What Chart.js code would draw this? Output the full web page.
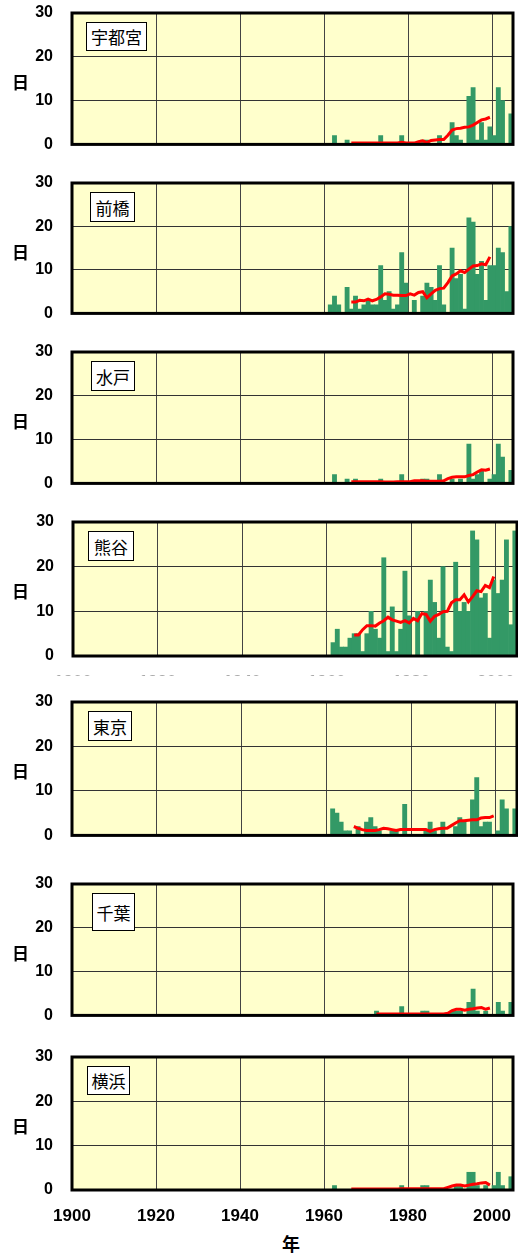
<!DOCTYPE html>
<html lang="ja">
<head>
    <meta charset="UTF-8">
    <title>猛暑日の年間日数</title>
    <script src="https://cdn.jsdelivr.net/npm/chart.js"></script>
    <style>
        body {
            margin: 0;
            padding: 0;
            background: #fff;
            font-family: "Liberation Sans", Arial, sans-serif;
        }

        #wrap {
            position: relative;
            width: 518px;
            height: 1254px;
            overflow: hidden;
        }

        canvas {
            position: absolute;
            left: 0;
        }

        .station {
            position: absolute;
            background: #fff;
            border: 1px solid #000;
            box-sizing: border-box;
            font-family: "Noto Sans CJK JP", sans-serif;
            font-size: 17px;
            display: flex;
            align-items: center;
            justify-content: center;
            color: #000;
        }

        .ytitle, .xtitle {
            position: absolute;
            font-family: "Noto Sans CJK JP", sans-serif;
            font-weight: bold;
            color: #000;
            line-height: 1;
        }

        .ytitle { font-size: 17px; }
        .xtitle { font-size: 18px; }
    </style>
</head>
<body>
    <div id="wrap"></div>

    <script>
        // years of observation (bars) and of the running mean (red line)
        var years = [1961, 1962, 1963, 1964, 1965, 1966, 1967, 1968, 1969, 1970,
                     1971, 1972, 1973, 1974, 1975, 1976, 1977, 1978, 1979, 1980,
                     1981, 1982, 1983, 1984, 1985, 1986, 1987, 1988, 1989, 1990,
                     1991, 1992, 1993, 1994, 1995, 1996, 1997, 1998, 1999, 2000,
                     2001, 2002, 2003, 2004];
        var maYears = [1966, 1967, 1968, 1969, 1970, 1971, 1972, 1973, 1974, 1975,
                       1976, 1977, 1978, 1979, 1980, 1981, 1982, 1983, 1984, 1985,
                       1986, 1987, 1988, 1989, 1990, 1991, 1992, 1993, 1994, 1995,
                       1996, 1997, 1998, 1999];
        var chibaMaYears = [1972, 1973, 1974, 1975, 1976, 1977, 1978, 1979, 1980, 1981,
                            1982, 1983, 1984, 1985, 1986, 1987, 1988, 1989, 1990, 1991,
                            1992, 1993, 1994, 1995, 1996, 1997, 1998, 1999];

        var xTicks = [1900, 1920, 1940, 1960, 1980, 2000];
        var yTicks = [0, 10, 20, 30];

        // days per year
        var utsunomiyaDays = [0, 2, 0, 0, 1, 0, 0, 0, 0, 0,
                              0, 0, 2, 0, 0, 0, 0, 2, 0, 0,
                              0, 0, 1, 1, 0, 0, 2, 0, 0, 5,
                              2, 1, 0, 11, 13, 1, 5, 1, 4, 2,
                              13, 10, 0, 7];
        var maebashiDays = [2, 4, 2, 0, 6, 1, 4, 1, 2, 3,
                            2, 2, 11, 3, 5, 1, 2, 14, 7, 0,
                            3, 0, 4, 7, 6, 3, 11, 2, 0, 15,
                            8, 9, 1, 22, 21, 9, 12, 3, 11, 11,
                            15, 14, 5, 20];
        var mitoDays = [0, 2, 0, 0, 1, 0, 1, 0, 0, 0,
                        0, 0, 1, 0, 0, 0, 0, 2, 0, 0,
                        0, 0, 1, 1, 0, 0, 2, 0, 0, 1,
                        0, 1, 0, 9, 1, 2, 3, 0, 1, 2,
                        9, 6, 0, 3];
        var kumagayaDays = [3, 6, 2, 2, 4, 5, 5, 1, 5, 10,
                            6, 4, 22, 1, 11, 1, 6, 19, 9, 0,
                            10, 0, 10, 17, 12, 4, 20, 2, 1, 21,
                            10, 12, 10, 28, 26, 13, 14, 4, 17, 14,
                            17, 26, 7, 28];
        var tokyoDays = [6, 5, 3, 1, 1, 0, 2, 0, 3, 4,
                         2, 1, 0, 0, 1, 1, 0, 7, 0, 0,
                         0, 0, 1, 3, 1, 0, 3, 0, 0, 2,
                         4, 3, 0, 8, 13, 2, 3, 3, 0, 1,
                         8, 6, 0, 6];
        var chibaDays = [null, null, null, null, null, null, 0, 0, 0, 0,
                         0, 1, 0, 0, 0, 0, 0, 2, 0, 0,
                         0, 0, 1, 1, 0, 0, 0, 0, 0, 1,
                         1, 1, 0, 3, 6, 1, 0, 1, 0, 0,
                         3, 1, 0, 3];
        var yokohamaDays = [0, 1, 0, 0, 0, 0, 0, 0, 0, 0,
                            0, 0, 0, 0, 0, 0, 0, 1, 0, 0,
                            0, 0, 1, 1, 0, 0, 0, 0, 0, 0,
                            1, 1, 0, 4, 4, 1, 0, 1, 0, 1,
                            4, 1, 0, 3];

        // running mean (red line)
        var utsunomiyaAvg = [0.3, 0.3, 0.3, 0.3, 0.3, 0.3, 0.3, 0.3, 0.3, 0.3,
                             0.3, 0.3, 0.5, 0.3, 0.3, 0.3, 0.6, 0.8, 0.4, 0.9,
                             1.0, 1.1, 1.1, 2.1, 3.3, 3.6, 3.7, 3.9, 4.0, 4.4,
                             5.0, 5.6, 5.8, 6.2];
        var maebashiAvg = [2.6, 2.6, 3.0, 2.9, 3.3, 2.9, 3.2, 3.8, 4.5, 4.4,
                           4.2, 4.2, 4.1, 4.1, 4.5, 4.2, 4.8, 5.0, 3.6, 4.5,
                           5.3, 5.7, 5.8, 7.1, 8.6, 9.1, 9.8, 9.4, 10.2, 10.9,
                           11.0, 11.4, 11.2, 13.0];
        var mitoAvg = [0.4, 0.4, 0.4, 0.4, 0.4, 0.4, 0.4, 0.4, 0.3, 0.3,
                       0.3, 0.4, 0.4, 0.4, 0.4, 0.6, 0.6, 0.6, 0.5, 0.5,
                       0.5, 0.5, 0.6, 1.1, 1.4, 1.5, 1.5, 1.5, 1.8, 2.0,
                       2.6, 3.1, 3.0, 3.3];
        var kumagayaAvg = [4.7, 4.7, 5.9, 6.8, 6.8, 6.7, 7.4, 7.9, 8.7, 8.1,
                           7.8, 7.5, 7.9, 7.4, 8.4, 7.9, 9.5, 9.3, 7.8, 8.9,
                           9.3, 9.9, 10.0, 11.9, 12.6, 12.6, 13.7, 12.1, 13.3, 14.6,
                           14.4, 15.8, 15.3, 17.8];
        var tokyoAvg = [2.0, 1.6, 1.3, 1.1, 1.1, 1.1, 1.3, 1.6, 1.5, 1.3,
                        1.1, 1.3, 1.3, 1.3, 1.3, 1.3, 1.3, 1.3, 0.9, 1.3,
                        1.5, 1.6, 1.6, 2.2, 2.8, 3.3, 3.3, 3.4, 3.5, 3.5,
                        3.9, 4.0, 4.0, 4.4];
        var chibaAvg = [0.3, 0.3, 0.3, 0.3, 0.3, 0.3, 0.3, 0.3, 0.3, 0.3,
                        0.3, 0.3, 0.3, 0.3, 0.3, 0.3, 0.3, 0.5, 1.1, 1.4,
                        1.4, 1.2, 1.4, 1.5, 1.7, 1.8, 1.4, 1.7];
        var yokohamaAvg = [0.2, 0.2, 0.2, 0.2, 0.2, 0.2, 0.2, 0.2, 0.2, 0.2,
                           0.2, 0.2, 0.3, 0.3, 0.3, 0.3, 0.3, 0.3, 0.3, 0.3,
                           0.3, 0.3, 0.3, 0.6, 0.9, 1.1, 1.1, 0.9, 1.1, 1.3,
                           1.4, 1.6, 1.7, 1.1];

        var stations = ['宇都宮', '前橋', '水戸', '熊谷', '東京', '千葉', '横浜'];
        var allDays = [utsunomiyaDays, maebashiDays, mitoDays, kumagayaDays, tokyoDays, chibaDays, yokohamaDays];
        var allAvg = [utsunomiyaAvg, maebashiAvg, mitoAvg, kumagayaAvg, tokyoAvg, chibaAvg, yokohamaAvg];
        var allAvgYears = [maYears, maYears, maYears, maYears, maYears, chibaMaYears, maYears];

        // panel geometry (plot area in page pixels) and label box
        var panelBox = [
            { top: 13,   bottom: 146,  left: 72, right: 513, xh: 0,  lab: [86, 61, 29] },
            { top: 183,  bottom: 315,  left: 72, right: 513, xh: 0,  lab: [90, 45, 30] },
            { top: 352,  bottom: 485,  left: 72, right: 513, xh: 0,  lab: [91, 44, 30] },
            { top: 522,  bottom: 656,  left: 73, right: 517, xh: 20, lab: [88, 46, 30] },
            { top: 702,  bottom: 837,  left: 72, right: 517, xh: 0,  lab: [88, 44, 30] },
            { top: 884,  bottom: 1017, left: 72, right: 513, xh: 0,  lab: [92, 43, 38] },
            { top: 1057, bottom: 1190, left: 72, right: 513, xh: 40, lab: [87, 43, 29] }
        ];

        Chart.defaults.font.family = '"Liberation Sans", Arial, sans-serif';
        Chart.defaults.color = '#000';

        // yellow plot background + heavy black frame
        var framePlugin = {
            id: 'frame',
            beforeDraw: function(chart) {
                var a = chart.chartArea, ctx = chart.ctx;
                ctx.save();
                ctx.fillStyle = '#ffffcc';
                ctx.fillRect(a.left, a.top, a.right - a.left, a.bottom - a.top);
                ctx.restore();
            },
            afterDraw: function(chart) {
                var a = chart.chartArea, ctx = chart.ctx;
                ctx.save();
                ctx.strokeStyle = '#000';
                ctx.lineWidth = 3;
                ctx.strokeRect(a.left, a.top, a.right - a.left, a.bottom - a.top);
                ctx.restore();
            }
        };

        var wrap = document.getElementById('wrap');

        stations.forEach(function(name, i) {
            var p = panelBox[i];
            var padTop = 13;
            var padBottom = p.xh > 0 ? 0 : 8;
            var canvasTop = p.top - padTop;
            var canvasH = p.bottom - canvasTop + padBottom + p.xh;

            var cv = document.createElement('canvas');
            cv.width = 518;
            cv.height = canvasH;
            cv.style.top = canvasTop + 'px';
            wrap.appendChild(cv);

            // station name box
            var lb = document.createElement('div');
            lb.className = 'station';
            lb.textContent = name;
            lb.style.left = p.lab[0] + 'px';
            lb.style.top = (p.top + 9) + 'px';
            lb.style.width = p.lab[1] + 'px';
            lb.style.height = p.lab[2] + 'px';
            wrap.appendChild(lb);

            // y title
            var yt = document.createElement('div');
            yt.className = 'ytitle';
            yt.textContent = '日';
            yt.style.left = '12px';
            yt.style.top = (p.top + 60) + 'px';
            wrap.appendChild(yt);

            var days = allDays[i];
            var avg = allAvg[i];
            var avgYears = allAvgYears[i];

            var barData = [];
            years.forEach(function(yr, k) {
                if (days[k] !== null) barData.push({ x: yr + 0.5, y: days[k] });
            });
            var lineData = avgYears.map(function(yr, k) {
                return { x: yr + 0.5, y: avg[k] };
            });

            var showX = p.xh > 0;
            var faintX = (i === 3);

            new Chart(cv.getContext('2d'), {
                type: 'bar',
                data: {
                    datasets: [{
                        type: 'line',
                        data: lineData,
                        borderColor: '#ff0000',
                        borderWidth: 3,
                        pointRadius: 0,
                        fill: false,
                        tension: 0,
                        order: 0
                    }, {
                        type: 'bar',
                        data: barData,
                        backgroundColor: '#339966',
                        borderWidth: 0,
                        barPercentage: 1.0,
                        categoryPercentage: 1.0,
                        order: 1
                    }]
                },
                options: {
                    responsive: false,
                    animation: false,
                    devicePixelRatio: 1,
                    layout: {
                        padding: { top: padTop, bottom: padBottom, left: 0, right: 518 - p.right }
                    },
                    plugins: {
                        legend: { display: false },
                        tooltip: { enabled: false }
                    },
                    scales: {
                        x: {
                            type: 'linear',
                            offset: false,
                            min: 1900,
                            max: 2005,
                            afterBuildTicks: function(s) {
                                s.ticks = xTicks.map(function(v) { return { value: v }; });
                            },
                            afterFit: function(s) { s.height = p.xh; },
                            grid: {
                                offset: false,
                                color: '#444',
                                lineWidth: 1,
                                drawTicks: showX,
                                tickLength: faintX ? 16 : 16,
                                tickColor: 'rgba(0,0,0,0)'
                            },
                            border: { display: false },
                            ticks: {
                                display: showX,
                                autoSkip: false,
                                maxRotation: 0,
                                padding: 0,
                                color: faintX ? '#aaa' : '#000',
                                font: { size: 17, weight: 'bold' },
                                callback: function(v) { return String(v); }
                            }
                        },
                        y: {
                            min: 0,
                            max: 30,
                            afterBuildTicks: function(s) {
                                s.ticks = yTicks.map(function(v) { return { value: v }; });
                            },
                            afterFit: function(s) { s.width = p.left; },
                            grid: {
                                color: '#333',
                                lineWidth: 1,
                                drawTicks: true,
                                tickLength: 19,
                                tickColor: 'rgba(0,0,0,0)'
                            },
                            border: { display: false },
                            ticks: {
                                padding: 0,
                                font: { size: 16, weight: 'bold' }
                            }
                        }
                    }
                },
                plugins: [framePlugin]
            });
        });

        var xt = document.createElement('div');
        xt.className = 'xtitle';
        xt.textContent = '年';
        xt.style.left = '282px';
        xt.style.top = '1234px';
        wrap.appendChild(xt);
    </script>
</body>
</html>
